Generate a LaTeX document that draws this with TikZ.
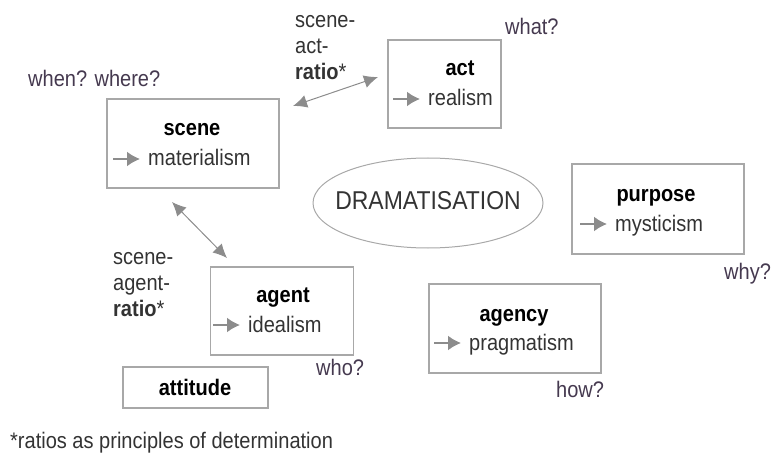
\documentclass[tikz,border=0pt]{standalone}
\usepackage{fontspec}
\setmainfont[FakeStretch=0.89]{Liberation Sans}
\usetikzlibrary{arrows.meta,shapes.geometric}
\definecolor{boxgray}{HTML}{A8A8A8}
\definecolor{arrowgray}{HTML}{8C8C8C}
\definecolor{txt}{HTML}{333333}
\definecolor{askcol}{HTML}{45394F}
\newcommand\basefont{\fontsize{22.5}{26}\selectfont}
\tikzset{
  box/.style={draw=boxgray, line width=1.2pt, inner sep=0pt},
  title/.style={font=\basefont\bfseries, anchor=base, inner sep=0pt},
  sub/.style={text=txt, anchor=base west, inner sep=0pt},
  ask/.style={text=askcol, anchor=base west, inner sep=0pt},
  pointer/.style={-{Latex[length=13pt,width=15pt]}, arrowgray, line width=2pt},
  ratiolink/.style={<->, arrowgray, line width=1pt},
}
\begin{document}
\begin{tikzpicture}[x=1pt, y=-1pt, >={Latex[length=14pt,width=13pt]}, every node/.style={font=\basefont}]
  \useasboundingbox (0,0) rectangle (776,457);
  % boxes
  \node[box, minimum width=172pt, minimum height=89pt] (scene) at (193,143.5) {};
  \node[box, minimum width=113pt, minimum height=88pt] (act) at (444.5,84) {};
  \node[box, minimum width=172pt, minimum height=90pt] (purpose) at (658,209) {};
  \node[box, minimum width=143pt, minimum height=88pt] (agent) at (282,311) {};
  \node[box, minimum width=172pt, minimum height=89pt] (agency) at (515,328.5) {};
  \node[box, minimum width=145pt, minimum height=41pt] (attitude) at (195.5,387.5) {};
  \node[draw=boxgray, line width=1pt, ellipse, minimum width=230pt, minimum height=90pt] (drama) at (428,203) {};
  \node[text=txt, font=\fontsize{25.8}{30}\selectfont] (dramatext) at (428,201) {DRAMATISATION};
  % titles
  \node[title] (sceneT) at (192,136) {scene};
  \node[title] (actT) at (460,76) {act};
  \node[title] (purposeT) at (656,201) {purpose};
  \node[title] (agentT) at (283,302) {agent};
  \node[title] (agencyT) at (514,321) {agency};
  \node[title] (attitudeT) at (195,395) {attitude};
  % isms
  \node[sub] (mat) at (148,166) {materialism};
  \node[sub] (real) at (428,106) {realism};
  \node[sub] (myst) at (615,231) {mysticism};
  \node[sub] (ideal) at (248,332) {idealism};
  \node[sub] (prag) at (469,350) {pragmatism};
  \foreach \n in {mat,real,myst,ideal,prag}
    \draw[pointer] ([xshift=-35pt,yshift=7pt]\n.base west) -- ([xshift=-8pt,yshift=7pt]\n.base west);
  % questions
  \node[ask] (when) at (28,87) {when? where?};
  \node[ask] (what) at (505,35) {what?};
  \node[ask] (why) at (724,279) {why?};
  \node[ask] (who) at (316,375) {who?};
  \node[ask] (how) at (556,397) {how?};
  % ratios
  \node[text=txt, align=left, anchor=north west, inner sep=0pt] (sceneact) at (295,15) {scene-\\act-\\\textbf{ratio}*};
  \node[text=txt, align=left, anchor=north west, inner sep=0pt] (sceneagent) at (113,252) {scene-\\agent-\\\textbf{ratio}*};
  \coordinate (sa1) at (293,106);
  \coordinate (sa2) at (378,77);
  \coordinate (sg1) at (172,202);
  \coordinate (sg2) at (227,258);
  \draw[ratiolink] (sa1) -- (sa2);
  \draw[ratiolink] (sg1) -- (sg2);
  \node[text=txt, anchor=base west, inner sep=0pt] (note) at (10,448) {*ratios as principles of determination};
\end{tikzpicture}
\end{document}
